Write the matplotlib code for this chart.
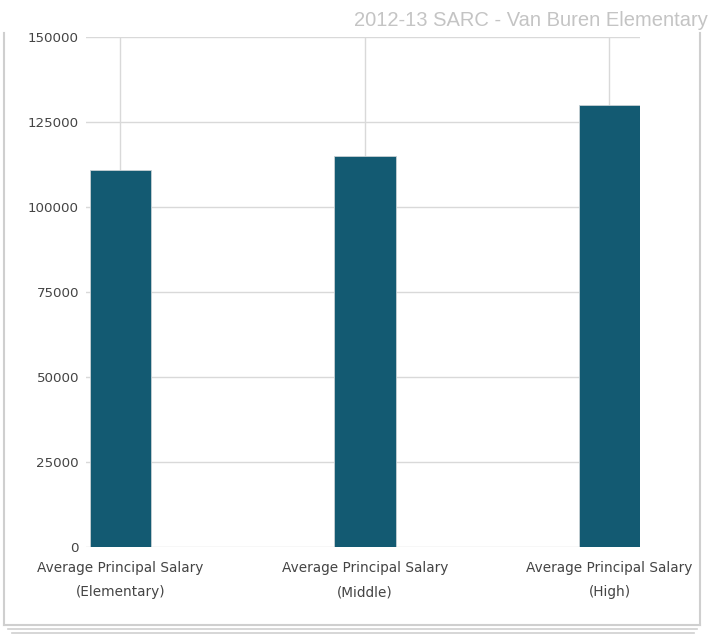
import matplotlib.pyplot as plt
from matplotlib.lines import Line2D

# chart data
categories = ['Average Principal Salary\n(Elementary)',
              'Average Principal Salary\n(Middle)',
              'Average Principal Salary\n(High)']
salaries = [111000, 115000, 130000]
y_ticks = [0, 25000, 50000, 75000, 100000, 125000, 150000]
title = '2012-13 SARC - Van Buren Elementary'

W, H = 716, 641
fig = plt.figure(figsize=(W / 100, H / 100), dpi=100)
ax = fig.add_axes([86 / W, 1 - 547 / H, (640 - 86) / W, (547 - 37) / H])

x = range(len(categories))
ax.bar(x, salaries, width=0.25, color='#135a72', edgecolor='#c8d0d4', linewidth=0.6, zorder=3)

ax.set_xlim(-0.141, 2.125)
ax.set_ylim(0, 150000)
ax.set_yticks(y_ticks)
ax.set_yticklabels([str(v) for v in y_ticks])
ax.set_xticks(list(x))
ax.set_xticklabels(categories, linespacing=1.95)

ax.grid(True, color='#d9d9d9', linewidth=1, zorder=0)
ax.set_axisbelow(True)
for s in ax.spines.values():
    s.set_visible(False)
ax.tick_params(length=0, labelcolor='#444444')
ax.tick_params(axis='y', pad=5, labelsize=9.6)
ax.tick_params(axis='x', pad=10, labelsize=9.8)

fig.text(708 / W, 1 - 20 / H, title, ha='right', va='center', fontsize=14.5,
         color='#c4c4c4', family='Liberation Sans')

# outer frame with stacked shadow at the bottom
frame = '#cfcfcf'
def fline(xs, ys, lw=1.5):
    fig.add_artist(Line2D([v / W for v in xs], [1 - v / H for v in ys],
                          color=frame, linewidth=lw, transform=fig.transFigure))

fline([4, 4], [33, 625])
fline([700, 700], [33, 625])
fline([4, 700], [625, 625])
fline([8, 697], [629, 629], lw=1.2)
fline([12, 694], [633, 633], lw=1.2)

fig.savefig('out.png', dpi=100)
